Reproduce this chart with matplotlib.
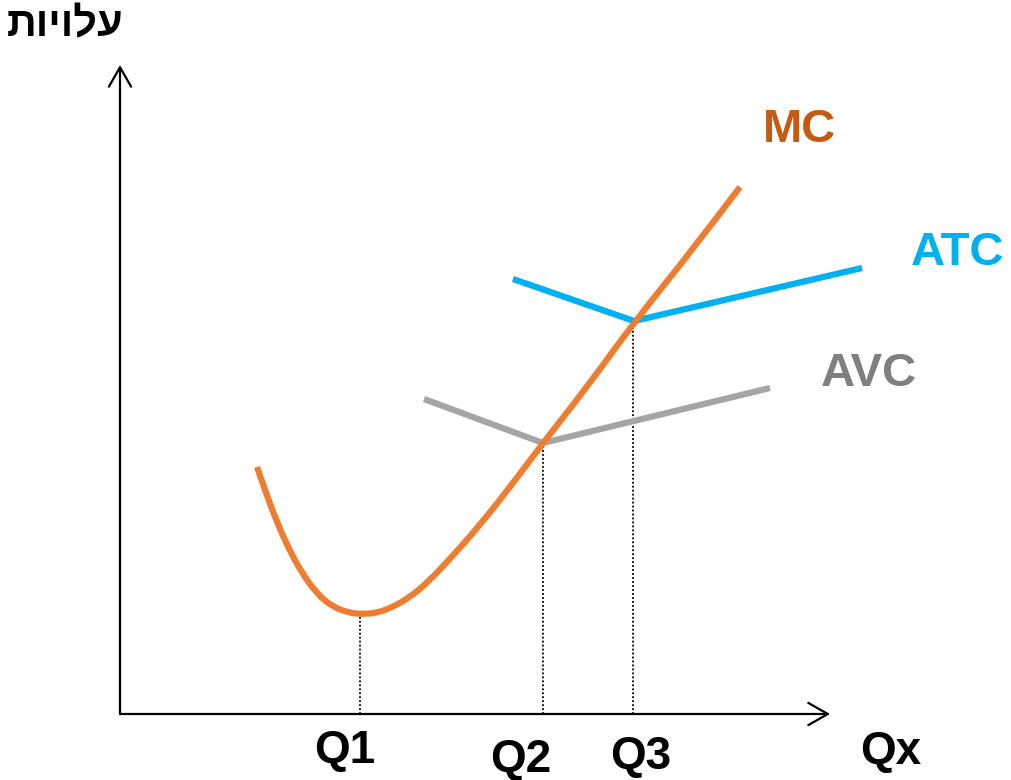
import matplotlib
matplotlib.use("Agg")
import matplotlib.pyplot as plt
from matplotlib.path import Path
from matplotlib.patches import PathPatch

# datos (unidades: x = cantidad, y = costo)
mc_x = [137, 147, 157, 167, 180, 197, 213, 230, 242, 257, 273, 290, 307,
        330, 360, 390, 423, 467, 515, 570, 620]
mc_y = [247, 218, 192, 169, 144, 120, 107, 101, 100, 101, 107, 117, 131,
        155, 189, 227, 271, 327, 393, 461, 527]

atc_x = [393, 514, 742]
atc_y = [435, 393, 446]

avc_x = [304, 423, 650]
avc_y = [315, 271, 326]

q_labels = ["Q1", "Q2", "Q3"]
q_x = [240, 423, 513]
q_top = [100, 271, 393]

x_max = 710
y_max = 649

# colores
c_mc = "#ED7D31"
c_mc_txt = "#C55A11"
c_atc = "#00B0F0"
c_avc = "#A5A5A5"
c_avc_txt = "#7F7F7F"

fuente = ["Liberation Sans", "DejaVu Sans"]

fig = plt.figure(figsize=(10.11, 7.8), dpi=100)
ax = fig.add_axes([0, 0, 1, 1])
ax.set_xlim(-120, 891)
ax.set_ylim(-66, 714)
ax.axis("off")

# -------- ejes --------
flecha = dict(arrowstyle="->,head_length=0.7,head_width=0.4", lw=1.6,
              color="black", shrinkA=0, shrinkB=0, mutation_scale=20)
ax.annotate("", xy=(0, y_max), xytext=(0, 0), arrowprops=flecha)
ax.annotate("", xy=(x_max, 0), xytext=(0, 0), arrowprops=flecha)

# -------- lineas punteadas --------
for qx, qt in zip(q_x, q_top):
    ax.plot([qx, qx], [0, qt], color="black", lw=1.3, ls=(0, (1, 1.2)), zorder=1)

# -------- curvas --------
ax.plot(avc_x, avc_y, color=c_avc, lw=4.5, solid_capstyle="butt", zorder=2)
ax.plot(atc_x, atc_y, color=c_atc, lw=4.5, solid_capstyle="butt", zorder=2)

# MC suavizada: curvas cuadraticas entre puntos medios
pts = list(zip(mc_x, mc_y))
verts = [pts[0]]
codes = [Path.MOVETO]
for i in range(1, len(pts) - 1):
    if i < len(pts) - 2:
        fin = ((pts[i][0] + pts[i + 1][0]) / 2, (pts[i][1] + pts[i + 1][1]) / 2)
    else:
        fin = pts[i + 1]
    verts += [pts[i], fin]
    codes += [Path.CURVE3, Path.CURVE3]
ax.add_patch(PathPatch(Path(verts, codes), facecolor="none", edgecolor=c_mc,
                       lw=4.5, capstyle="butt", zorder=3))

# -------- textos --------
q_pos = [(225, -37), (401, -46), (521, -43)]
for lab, (tx, ty) in zip(q_labels, q_pos):
    ax.text(tx, ty, lab, fontsize=33, fontweight="bold", family=fuente,
            ha="center", va="center")
ax.text(771, -38, "Qx", fontsize=33, fontweight="bold", family=fuente,
        ha="center", va="center")

ax.text(680, 584, "MC", fontsize=34, fontweight="bold", family=fuente,
        color=c_mc_txt, ha="center", va="center")
ax.text(838, 461, "ATC", fontsize=34, fontweight="bold", family=fuente,
        color=c_atc, ha="center", va="center")
ax.text(749, 340, "AVC", fontsize=34, fontweight="bold", family=fuente,
        color=c_avc_txt, ha="center", va="center")

# matplotlib no hace bidi: invertir para orden visual
ax.text(-55, 689, "עלויות"[::-1], fontsize=30, fontweight="bold", family=fuente,
        ha="center", va="center")

plt.savefig("out.png", dpi=100)
plt.close()
